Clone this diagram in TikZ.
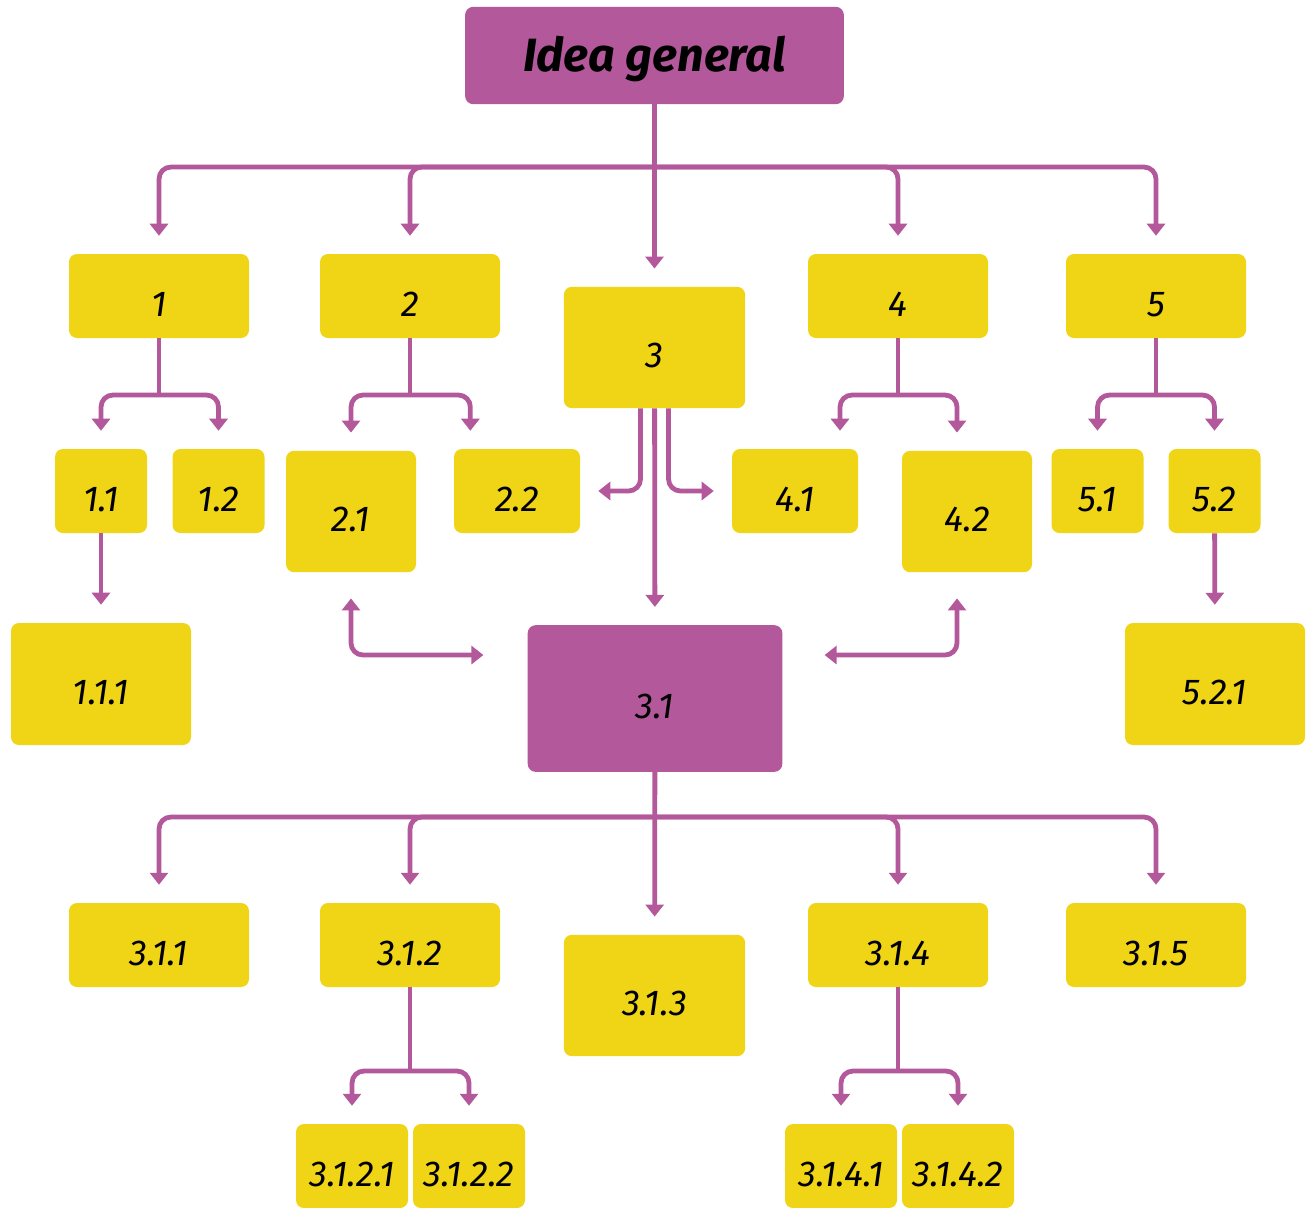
\documentclass[tikz,border=0pt]{standalone}
\usepackage{fontspec}
\setmainfont{Fira Sans}
\usetikzlibrary{arrows.meta}
\definecolor{plum}{HTML}{B3589B}
\definecolor{mustard}{HTML}{F0D416}

\begin{document}
\begin{tikzpicture}[x=0.75pt,y=-0.75pt,
  >={Triangle[width=13.5pt,length=9pt]},
  box/.style={fill=mustard, rounded corners=6pt, inner sep=0pt,
    text height=30pt, text depth=0pt,
    font=\fontsize{27}{30}\selectfont\itshape},
  wide/.style={box, minimum width=135pt, minimum height=63pt},
  tall/.style={box, minimum width=136pt, minimum height=91pt},
  small/.style={box, minimum width=69pt, minimum height=63pt},
  mid/.style={box, minimum width=94.5pt, minimum height=63pt},
  sq/.style={box, minimum width=97.5pt, minimum height=91pt},
  big/.style={box, minimum width=135pt, minimum height=91.5pt},
  leaf/.style={box, minimum width=84pt, minimum height=63pt},
  stem/.style={draw=plum, line width=3.6pt},
  link/.style={stem, rounded corners=9pt, ->, shorten >=13.5pt},
  pair/.style={link, <->}]
\useasboundingbox (0,0) rectangle (1308,1207);
% top
\node [box, fill=plum, minimum width=284pt, minimum height=73pt,
  text height=30pt, text depth=6pt,
  font=\fontsize{35}{40}\selectfont\bfseries\itshape] (idea) at (654.5,55.5) {Idea general};
\node [wide] (n1) at (159,296) {1};
\node [wide] (n2) at (410,296) {2};
\node [tall] (n3) at (654.5,347.5) {3};
\node [wide] (n4) at (898,296) {4};
\node [wide] (n5) at (1156,296) {5};
% second row
\node [small] (n11) at (101,491) {1.1};
\node [small] (n12) at (218.5,491) {1.2};
\node [sq] (n21) at (351,511.5) {2.1};
\node [mid] (n22) at (517,491) {2.2};
\node [mid] (n41) at (795,491) {4.1};
\node [sq] (n42) at (967,511.5) {4.2};
\node [small] (n51) at (1097.5,491) {5.1};
\node [small] (n52) at (1214.5,491) {5.2};
% third row
\node [big] (n111) at (101,684) {1.1.1};
\node [box, fill=plum, minimum width=191pt, minimum height=110pt] (n31) at (655,698.5) {3.1};
\node [big] (n521) at (1215,684) {5.2.1};
% below 3.1
\node [wide] (n311) at (159,945) {3.1.1};
\node [wide] (n312) at (410,945) {3.1.2};
\node [tall] (n313) at (654.5,995.5) {3.1.3};
\node [wide] (n314) at (898,945) {3.1.4};
\node [wide] (n315) at (1156,945) {3.1.5};
\node [leaf] (n3121) at (352,1166) {3.1.2.1};
\node [leaf] (n3122) at (469,1166) {3.1.2.2};
\node [leaf] (n3141) at (841,1166) {3.1.4.1};
\node [leaf] (n3142) at (958,1166) {3.1.4.2};
% junctions
\coordinate (top) at (654.5,167);
\coordinate (j1) at (159,395);
\coordinate (j2) at (410,395);
\coordinate (j4) at (898,395);
\coordinate (j5) at (1156,395);
\coordinate (mid) at (654.5,817);
\coordinate (j312) at (410,1071);
\coordinate (j314) at (898,1071);
% connectors
\draw [link] (idea) -- (n3);
\draw [link] (top) -| (n1);
\draw [link] (top) -| (n2);
\draw [link] (top) -| (n4);
\draw [link] (top) -| (n5);
\draw [stem] (n1.south) -- (j1);
\draw [link] (j1) -| (n11);
\draw [link] (j1) -| (n12);
\draw [stem] (n2.south) -- (j2);
\draw [link] (j2) -| (n21);
\draw [link] (j2) -| ([xshift=-35pt]n22.north);
\draw [stem] (n4.south) -- (j4);
\draw [link] (j4) -| ([xshift=33.75pt]n41.north);
\draw [link] (j4) -| ([xshift=-7.5pt]n42.north);
\draw [stem] (n5.south) -- (j5);
\draw [link] (j5) -| (n51);
\draw [link] (j5) -| (n52);
\draw [link] ([xshift=-10.5pt]n3.south) |- (n22.east);
\draw [link] ([xshift=10.5pt]n3.south) |- (n41.west);
\draw [link] (n3) -- (n31);
\draw [link] (n11) -- (n111);
\draw [link] (n52) -- (n521);
\draw [pair, shorten <=19.5pt, shorten >=33pt] (n21.south) |- ([yshift=32.6pt]n31.west);
\draw [pair, shorten <=19.5pt, shorten >=31.5pt] ([xshift=-7.5pt]n42.south) |- ([yshift=32.6pt]n31.east);
\draw [link] (n31) -- (n313);
\draw [link] (mid) -| (n311);
\draw [link] (mid) -| (n312);
\draw [link] (mid) -| (n314);
\draw [link] (mid) -| (n315);
\draw [stem] (n312.south) -- (j312);
\draw [link] (j312) -| (n3121);
\draw [link] (j312) -| (n3122);
\draw [stem] (n314.south) -- (j314);
\draw [link] (j314) -| (n3141);
\draw [link] (j314) -| (n3142);
\end{tikzpicture}
\end{document}
